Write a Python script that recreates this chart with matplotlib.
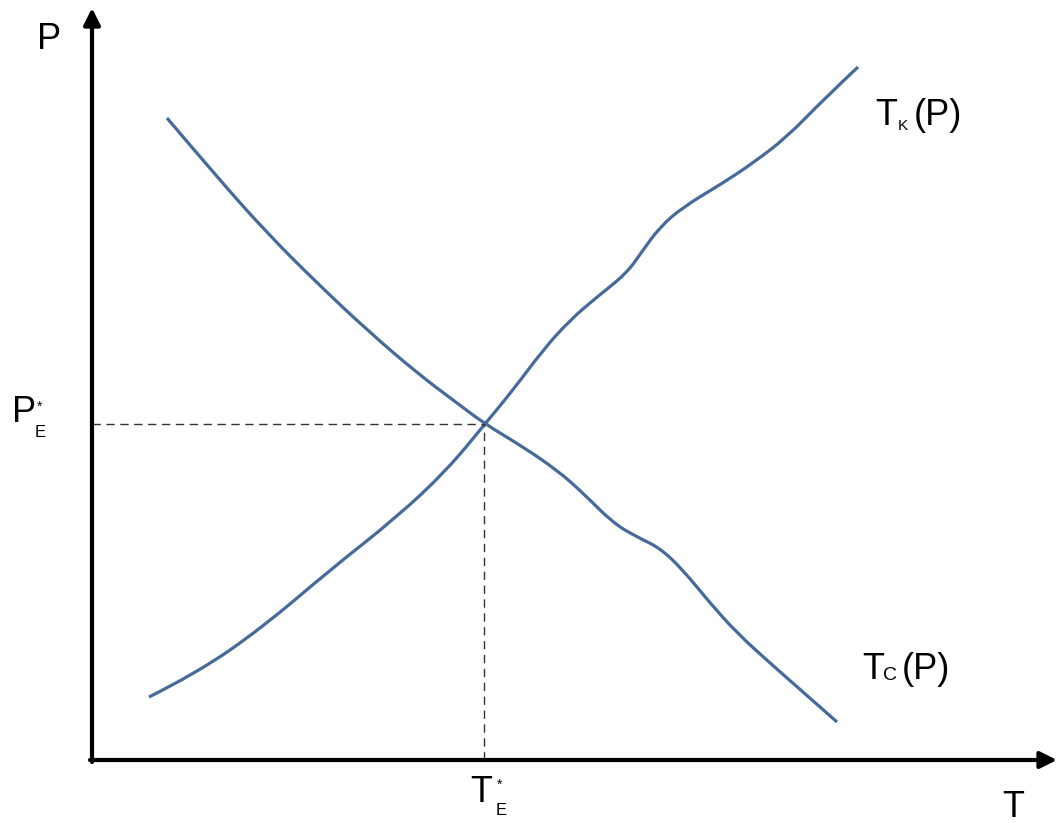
import numpy as np
import matplotlib
matplotlib.use('Agg')
from matplotlib import pyplot as plt
from matplotlib.path import Path
from matplotlib.patches import PathPatch

plt.rcParams['font.family'] = ['Liberation Sans', 'DejaVu Sans']

# curves (T, P in arbitrary units, origin at the axes corner)
tk_T = [57, 105, 171, 238, 305, 355, 393, 421, 451, 478, 505, 535, 551, 568, 591, 631, 661, 695, 731, 766]
tk_P = [63, 87, 133, 190, 243, 290, 336, 370, 410, 440, 463, 487, 510, 533, 553, 577, 597, 623, 660, 693]

tc_T = [75, 125, 175, 225, 275, 325, 365, 393, 428, 465, 491, 521, 545, 568, 591, 618, 645, 678, 711, 745]
tc_P = [642, 583, 527, 477, 430, 387, 357, 336, 315, 290, 267, 237, 223, 212, 190, 157, 127, 97, 68, 38]

T_E = 392
P_E = 336

curve_color = '#466a9a'


def smooth_path(xs, ys):
    # quadratic bezier pieces through the midpoints, read points as controls
    pts = np.column_stack([xs, ys]).astype(float)
    verts = [pts[0]]
    codes = [Path.MOVETO]
    for i in range(1, len(pts) - 1):
        end = pts[i + 1] if i == len(pts) - 2 else (pts[i] + pts[i + 1]) / 2
        verts += [pts[i], end]
        codes += [Path.CURVE3, Path.CURVE3]
    return Path(verts, codes)


fig = plt.figure(figsize=(10.57, 8.23), dpi=100)
ax = fig.add_axes([0, 0, 1, 1])
ax.set_xlim(-92, 965)
ax.set_ylim(-63, 760)
ax.axis('off')

# axes with arrows
ax.annotate('', xy=(0, 752), xytext=(0, -2),
            arrowprops=dict(arrowstyle='-|>', lw=3, color='k', mutation_scale=25,
                            shrinkA=0, shrinkB=0))
ax.annotate('', xy=(965, 0), xytext=(-2, 0),
            arrowprops=dict(arrowstyle='-|>', lw=3, color='k', mutation_scale=25,
                            shrinkA=0, shrinkB=0))

# dashed guides to the crossing point
ax.plot([0, T_E], [P_E, P_E], color='#333333', lw=1, ls=(0, (6, 4)))
ax.plot([T_E, T_E], [0, P_E], color='#333333', lw=1, ls=(0, (6, 4)))

for xs, ys in [(tk_T, tk_P), (tc_T, tc_P)]:
    ax.add_patch(PathPatch(smooth_path(xs, ys), fill=False, edgecolor=curve_color,
                           lw=2.3, capstyle='butt', joinstyle='round'))

big = 26
sub = 12
star = 10
kw = dict(va='baseline', ha='left', color='black')

ax.text(-55, 711, 'P', fontsize=big, **kw)
ax.text(910, -57, 'T', fontsize=big, **kw)

ax.text(-80, 338, 'P', fontsize=big, **kw)
ax.text(-57, 323, 'E', fontsize=sub, **kw)
ax.text(-55, 360, '*', fontsize=star, va='top', ha='left')

ax.text(378, -42, 'T', fontsize=big, **kw)
ax.text(404, -55, 'E', fontsize=sub, **kw)
ax.text(405, -18, '*', fontsize=star, va='top', ha='left')

ax.text(783, 635, 'T', fontsize=big, **kw)
ax.text(806, 630, 'K', fontsize=sub - 1, **kw)
ax.text(822, 635, '(P)', fontsize=big, **kw)

ax.text(770, 81, 'T', fontsize=big, **kw)
ax.text(791, 80, 'C', fontsize=sub + 2, **kw)
ax.text(810, 81, '(P)', fontsize=big, **kw)

fig.savefig('out.png', dpi=100)
